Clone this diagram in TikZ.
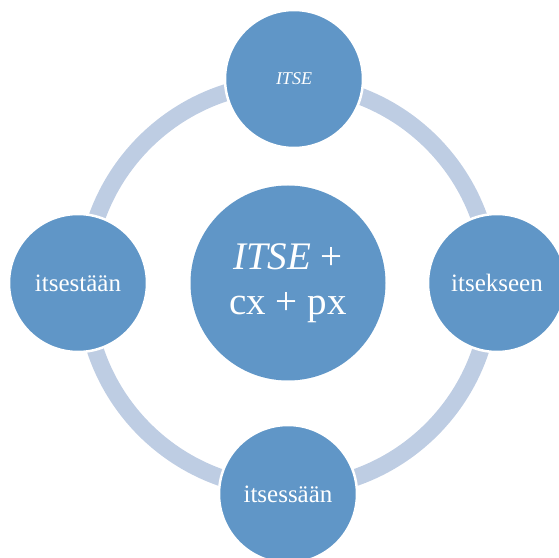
\documentclass[tikz,border=0pt]{standalone}
\usepackage{fontspec}
\setmainfont{Liberation Serif}
\definecolor{kuplasin}{RGB}{96,150,199}
\definecolor{rengassin}{RGB}{190,205,227}
\begin{document}
\begin{tikzpicture}[x=1pt,y=1pt,
  kupla/.style={circle,fill=kuplasin,draw=white,line width=2.5pt,minimum size=138pt,
    inner sep=0pt,text=white,font=\fontsize{25}{28}\selectfont}]
\useasboundingbox (0,0) rectangle (559,557);
\clip (0,0) rectangle (559,557);

% rengas
\def\r{203}
\draw[rengassin,line width=17pt] (288,271) circle(\r);

% keskikupla
\node[kupla,draw=none,minimum size=195pt,align=center,font=\fontsize{39}{45}\selectfont]
  (keski) at (288,274) {\textit{ITSE} +\\cx + px};

% kuplat kehällä
\node[kupla,font=\fontsize{18}{20}\selectfont\itshape] (itse) at (294,478) {ITSE};
\node[kupla] (itsekseen) at (497,274) {itsekseen};
\node[kupla] (itsessaan) at (288,63) {itsessään};
\node[kupla] (itsestaan) at (78,274) {itsestään};

\end{tikzpicture}
\end{document}
